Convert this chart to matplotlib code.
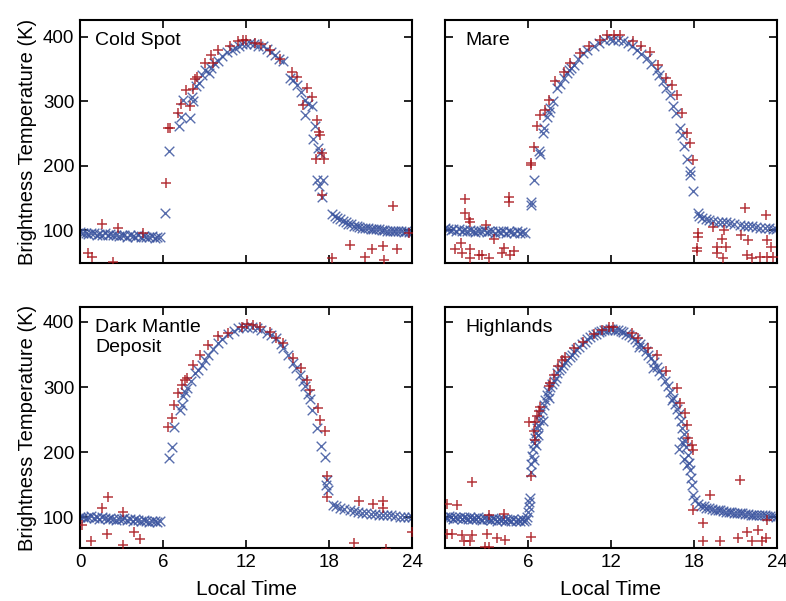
import matplotlib
matplotlib.use('Agg')
from matplotlib import pyplot as plt

plt.rcParams['font.family'] = ['Liberation Sans', 'DejaVu Sans']

# ---- Cold Spot ----
cs_red_t = [0.6, 0.9, 1.57, 2.4, 2.72, 4.58, 6.19, 6.39, 6.5, 7.06, 7.3, 7.66, 7.95, 8.14,
            8.31, 8.43, 9.04, 9.47, 9.64, 10.0, 10.84, 11.45, 11.81, 12.0, 12.65, 13.1, 13.74,
            14.46, 15.3, 15.67, 16.15, 16.4, 16.75, 17.06, 17.11, 17.28, 17.35, 17.47, 17.64,
            17.47, 18.2, 19.5, 20.6, 21.1, 21.9, 22.0, 22.66, 22.9, 23.8]
cs_red_T = [65, 59, 110, 51, 103, 95, 173, 259, 259, 282, 296, 317, 292, 319,
            334, 337, 359, 372, 359, 380, 385, 393, 395, 395, 391, 389, 380,
            365, 346, 337, 294, 320, 307, 211, 271, 253, 248, 220, 211,
            155, 56, 77, 58, 71, 75, 53, 138, 70, 95]
cs_blue_t = [0.0, 0.2, 0.4, 0.6, 0.8, 1.0, 1.2, 1.4, 1.6, 1.8, 2.0, 2.2, 2.4, 2.6, 2.8,
             3.0, 3.2, 3.4, 3.6, 3.8, 4.0, 4.2, 4.4, 4.6, 4.8, 5.0, 5.2, 5.4, 5.6, 5.8,
             6.14, 6.46, 7.16, 7.3, 7.47, 7.95, 8.07, 8.2, 8.4, 8.6, 8.8, 9.0, 9.3, 9.5, 9.7,
             10.0, 10.3, 10.6, 10.96, 11.2, 11.5, 11.7, 12.0, 12.3, 12.6, 12.9, 13.2, 13.5,
             13.8, 14.1, 14.4, 14.7, 15.18, 15.4, 15.67, 16.0, 16.27, 16.27, 16.5, 16.75,
             16.87, 17.0, 17.23, 17.35, 17.11, 17.6, 17.47, 17.3,
             18.2, 18.4, 18.6, 18.8, 19.0, 19.2, 19.4, 19.6, 19.8, 20.0, 20.2, 20.4, 20.6,
             20.8, 21.0, 21.2, 21.4, 21.6, 21.8, 22.0, 22.2, 22.4, 22.6, 22.8, 23.0, 23.2,
             23.4, 23.6, 23.8, 24.0]
cs_blue_T = [97, 96, 95, 94, 96, 95, 93, 94, 92, 95, 93, 94, 92, 93, 91,
             93, 92, 90, 92, 91, 90, 92, 89, 91, 90, 89, 91, 88, 90, 89,
             127, 223, 261, 276, 302, 274, 307, 300, 324, 328, 340, 349, 343, 352, 360,
             362, 370, 376, 380, 383, 386, 388, 389, 390, 388, 386, 385, 381,
             376, 372, 365, 362, 336, 333, 325, 315, 302, 279, 296, 292,
             242, 262, 227, 219, 178, 178, 152, 168,
             125, 122, 119, 117, 114, 112, 110, 109, 107, 106, 105, 104, 103,
             103, 102, 102, 101, 101, 100, 100, 99, 99, 98, 99, 98, 98,
             97, 98, 97, 97]

# ---- Mare ----
ma_red_t = [1.47, 1.47, 1.71, 1.78, 1.16, 0.75, 1.23, 1.83, 1.83, 2.43, 2.99, 2.67, 3.16,
            3.52, 4.6, 4.6, 4.24, 4.96, 4.12, 4.72,
            6.22, 6.24, 6.41, 6.65, 6.89, 7.25, 7.49, 7.98, 8.58, 9.06, 9.78, 10.39, 11.23,
            11.7, 12.2, 12.65, 13.62, 14.2, 14.82, 15.4, 16.0, 16.4, 16.75, 17.1, 17.5,
            17.7, 17.95,
            18.3, 18.3, 18.2, 18.2, 19.4, 19.65, 19.65, 20.0, 20.2, 20.1, 20.3, 21.4, 21.7,
            21.9, 21.8, 22.2, 22.8, 23.2, 23.3, 23.6, 23.7, 23.3]
ma_red_T = [149, 126, 118, 113, 80, 71, 64, 71, 56, 61, 108, 61, 56,
            87, 152, 144, 73, 68, 64, 61,
            201, 204, 229, 261, 279, 286, 302, 331, 346, 359, 375, 385, 395,
            402, 402, 403, 393, 385, 377, 356, 336, 325, 310, 281, 250,
            235, 209,
            96, 90, 73, 68, 105, 74, 64, 87, 100, 56, 74, 92, 134,
            84, 61, 57, 58, 123, 84, 74, 58, 58]
ma_blue_t = [0.0, 0.2, 0.4, 0.6, 0.8, 1.0, 1.2, 1.4, 1.6, 1.8, 2.0, 2.2, 2.4, 2.6, 2.8,
             3.0, 3.2, 3.4, 3.6, 3.8, 4.0, 4.2, 4.4, 4.6, 4.8, 5.0, 5.2, 5.4, 5.6, 5.8,
             6.24, 6.22, 6.4, 6.77, 6.85, 7.08, 7.13, 7.37, 7.5, 7.6, 7.8, 8.1, 8.3, 8.58,
             8.8, 8.94, 9.1, 9.3, 9.6, 10.0, 10.3, 10.75, 11.1, 11.47, 11.95, 12.17, 12.5,
             12.89, 13.2, 13.5, 13.85, 14.2, 14.58, 14.9, 15.3, 15.5, 15.79, 16.0, 16.27,
             16.5, 16.7, 16.99, 17.1, 17.3, 17.5, 17.7, 17.72, 17.9, 18.3, 18.35,
             18.6, 18.9, 19.1, 19.4, 19.7, 20.0, 20.3, 20.6, 20.9, 21.3, 21.6, 21.9, 22.2,
             22.5, 22.8, 23.1, 23.4, 23.7, 23.9]
ma_blue_T = [103, 101, 100, 102, 99, 101, 99, 100, 98, 100, 99, 97, 99, 98, 100,
             97, 99, 98, 96, 98, 97, 99, 96, 98, 97, 96, 98, 96, 97, 96,
             139, 143, 178, 222, 218, 250, 258, 276, 284, 290, 300, 320, 326, 336,
             343, 349, 352, 356, 365, 375, 379, 385, 390, 395, 396, 395, 395,
             393, 390, 385, 380, 373, 367, 358, 349, 341, 331, 321, 310,
             292, 282, 258, 248, 230, 211, 191, 185, 161, 126, 122,
             119, 117, 115, 114, 113, 113, 113, 111, 110, 108, 107, 106, 106,
             105, 104, 103, 103, 102, 101]

# ---- Dark Mantle Deposit ----
dm_red_t = [0.12, 0.8, 1.57, 2.05, 1.98, 3.13, 3.13, 3.93, 4.34,
            6.39, 6.63, 6.82, 7.1, 7.35, 7.6, 7.7, 8.19, 8.67, 9.28, 10.0, 10.72, 11.69,
            12.05, 12.53, 13.0, 13.74, 14.2, 14.7, 15.4, 16.0, 16.4, 16.6, 17.23, 17.35,
            17.7, 17.88, 17.88, 19.8, 20.2, 21.2, 21.9, 21.9, 22.1, 24.0]
dm_red_T = [88, 64, 114, 132, 75, 109, 57, 78, 67,
            239, 252, 273, 291, 304, 311, 314, 334, 350, 365, 378, 383, 393,
            397, 396, 393, 385, 375, 367, 344, 329, 311, 296, 268, 250,
            233, 164, 132, 60, 125, 120, 125, 114, 52, 78]
dm_blue_t = [0.0, 0.2, 0.4, 0.6, 0.8, 1.0, 1.2, 1.4, 1.6, 1.8, 2.0, 2.2, 2.4, 2.6, 2.8,
             3.0, 3.2, 3.4, 3.6, 3.8, 4.0, 4.2, 4.4, 4.6, 4.8, 5.0, 5.2, 5.4, 5.6, 5.8,
             6.46, 6.63, 6.8, 7.23, 7.35, 7.47, 7.6, 7.75, 8.0, 8.31, 8.5, 8.8, 9.0, 9.28,
             9.6, 10.0, 10.3, 10.72, 11.1, 11.45, 11.8, 12.05, 12.4, 12.77, 13.1, 13.5,
             13.8, 14.2, 14.5, 14.7, 15.0, 15.4, 15.6, 15.9, 16.1, 16.27, 16.45, 16.6,
             16.8, 17.1, 17.4, 17.7, 17.8, 17.9, 17.85,
             18.3, 18.5, 18.8, 19.1, 19.5, 19.8, 20.1, 20.4, 20.7, 21.0, 21.3, 21.6, 21.9,
             22.2, 22.5, 22.8, 23.1, 23.4, 23.7, 24.0]
dm_blue_T = [100, 101, 99, 100, 102, 99, 100, 98, 101, 99, 97, 99, 98, 96, 98,
             97, 99, 96, 97, 95, 97, 96, 94, 96, 95, 93, 95, 94, 93, 95,
             191, 208, 239, 265, 273, 286, 293, 298, 309, 322, 326, 334, 342, 350,
             358, 368, 374, 381, 386, 391, 392, 393, 393, 390, 387, 383,
             380, 375, 366, 360, 350, 337, 330, 319, 310, 301, 290, 281,
             265, 237, 209, 192, 150, 142, 158,
             119, 117, 115, 113, 111, 110, 108, 107, 106, 105, 105, 104, 104,
             103, 103, 102, 101, 101, 100, 101]

# ---- Highlands ----
hl_red_t = [0.14, 0.87, 1.95, 0.14, 0.5, 1.23, 1.35, 1.95, 1.83, 3.04, 2.92, 3.16, 3.16,
            3.76, 4.36, 4.24, 6.22, 6.24, 6.1, 6.41, 6.53, 6.65, 6.77, 6.89, 6.53, 7.49,
            7.6, 7.86, 8.2, 8.46, 8.7, 9.3, 10.0, 10.75, 11.35, 11.83, 12.17, 13.5, 13.98,
            14.7, 15.3, 16.0, 16.75, 16.99, 17.35, 17.47, 17.6, 17.84, 17.95, 19.16, 17.95,
            18.67, 18.67, 19.88, 21.2, 21.3, 21.8, 22.2, 22.6, 22.9, 23.2, 23.3]
hl_red_T = [121, 119, 155, 75, 75, 73, 63, 73, 63, 75, 55, 55, 104,
            68, 65, 105, 70, 163, 247, 232, 247, 255, 263, 270, 219, 301,
            306, 319, 332, 342, 347, 360, 370, 381, 388, 393, 393, 383, 375,
            360, 350, 324, 298, 275, 260, 242, 222, 211, 204, 134, 111,
            92, 63, 64, 68, 157, 78, 63, 81, 63, 68, 96]
hl_blue_t = [0.0, 0.15, 0.3, 0.45, 0.6, 0.75, 0.9, 1.05, 1.2, 1.35, 1.5, 1.65, 1.8, 1.95,
             2.1, 2.25, 2.4, 2.55, 2.7, 2.85, 3.0, 3.15, 3.3, 3.45, 3.6, 3.75, 3.9, 4.05,
             4.2, 4.35, 4.5, 4.65, 4.8, 4.95, 5.1, 5.25, 5.4, 5.55, 5.7, 5.85,
             5.95, 6.0, 6.05, 6.1, 6.15, 6.2, 6.25, 6.3, 6.35, 6.4, 6.45, 6.5, 6.55, 6.6,
             6.65, 6.7, 6.75, 6.8, 6.9, 7.0, 7.05, 7.15, 7.25, 7.35, 7.45, 7.55, 7.6, 7.7,
             7.85, 8.0, 8.1, 8.25, 8.4, 8.55, 8.7, 8.85, 9.0, 9.15, 9.3, 9.5, 9.7, 9.9,
             10.1, 10.3, 10.5, 10.7, 10.9, 11.1, 11.3, 11.5, 11.7, 11.9, 12.1, 12.3, 12.5,
             12.7, 12.9, 13.1, 13.3, 13.5, 13.7, 13.9, 14.1, 14.3, 14.5, 14.7, 14.9, 15.1,
             15.3, 15.5, 15.7, 15.9, 16.1, 16.3, 16.5, 16.65, 16.8, 16.95, 17.05, 17.15,
             17.25, 17.35, 17.45, 17.55, 17.65, 17.72, 17.8, 17.88, 17.95, 18.1,
             16.9, 17.1, 17.3, 17.5, 16.4, 15.0, 14.0,
             18.3, 18.5, 18.7, 18.9, 19.1, 19.3, 19.5, 19.7, 19.9, 20.1, 20.3, 20.5, 20.7,
             20.9, 21.1, 21.3, 21.5, 21.7, 21.9, 22.1, 22.3, 22.5, 22.7, 22.9, 23.1, 23.3,
             23.5, 23.7, 23.9]
hl_blue_T = [101, 99, 102, 100, 98, 101, 99, 100, 98, 101, 99, 97, 100, 98,
             99, 97, 100, 98, 96, 99, 97, 98, 96, 99, 97, 95, 98, 96,
             97, 95, 98, 96, 94, 97, 95, 96, 94, 97, 95, 96,
             100, 108, 116, 124, 130, 170, 182, 195, 205, 214, 188, 222, 230, 211,
             238, 242, 226, 250, 258, 265, 248, 272, 280, 288, 294, 284, 300, 305,
             310, 314, 321, 326, 330, 334, 338, 342, 347, 350, 354, 358, 362, 366,
             370, 374, 377, 380, 382, 384, 386, 387, 388, 389, 389, 388, 388,
             386, 384, 382, 380, 377, 374, 370, 366, 361, 355, 350, 345, 338,
             331, 325, 318, 310, 302, 292, 283, 274, 266, 258, 248, 238,
             228, 218, 208, 196, 184, 172, 160, 150, 134, 126,
             205, 215, 190, 180, 280, 330, 362,
             121, 118, 117, 115, 114, 113, 112, 111, 111, 110, 109, 108, 108,
             107, 107, 106, 106, 105, 105, 104, 104, 104, 103, 103, 103, 102,
             102, 102, 101]

panels = [
    ('Cold Spot', cs_red_t, cs_red_T, cs_blue_t, cs_blue_T),
    ('Mare', ma_red_t, ma_red_T, ma_blue_t, ma_blue_T),
    ('Dark Mantle\nDeposit', dm_red_t, dm_red_T, dm_blue_t, dm_blue_T),
    ('Highlands', hl_red_t, hl_red_T, hl_blue_t, hl_blue_T),
]

W, H = 786, 601
boxes = [(80, 20, 412, 263), (445, 20, 777, 263), (80, 307, 412, 548), (445, 307, 777, 548)]
ylims = [(49, 426), (49, 426), (53, 423), (53, 423)]

fig = plt.figure(figsize=(W / 100, H / 100), dpi=100)

for i, (name, rt, rT, bt, bT) in enumerate(panels):
    x0, y0, x1, y1 = boxes[i]
    ax = fig.add_axes([x0 / W, 1 - y1 / H, (x1 - x0) / W, (y1 - y0) / H])
    ax.scatter(bt, bT, marker='x', s=48, color='#3a539e', alpha=0.85, linewidths=1.0, zorder=2)
    ax.scatter(rt, rT, marker='+', s=62, color='#a8141a', alpha=0.85, linewidths=1.1, zorder=3)
    ax.set_xlim(0, 24)
    ax.set_ylim(*ylims[i])
    ax.set_xticks([0, 6, 12, 18, 24])
    ax.set_yticks([100, 200, 300, 400])
    ax.tick_params(direction='in', top=True, right=True, length=6, width=1.2,
                   labelsize=13.5, pad=4)
    for sp in ax.spines.values():
        sp.set_linewidth(1.5)
    if i % 2 == 1:
        ax.set_yticklabels([])
    else:
        ax.set_ylabel('Brightness Temperature (K)', fontsize=14.5, labelpad=4)
    if i < 2:
        ax.set_xticklabels([])
    else:
        ax.set_xlabel('Local Time', fontsize=15, labelpad=7)
        if i == 3:
            ax.set_xticklabels(['', '6', '12', '18', '24'])
    tx = 0.045 if i % 2 == 0 else 0.06
    ax.text(tx, 0.95, name, transform=ax.transAxes, fontsize=14, va='top', ha='left',
            linespacing=1.25)

fig.savefig('out.png', dpi=100)
plt.close(fig)
